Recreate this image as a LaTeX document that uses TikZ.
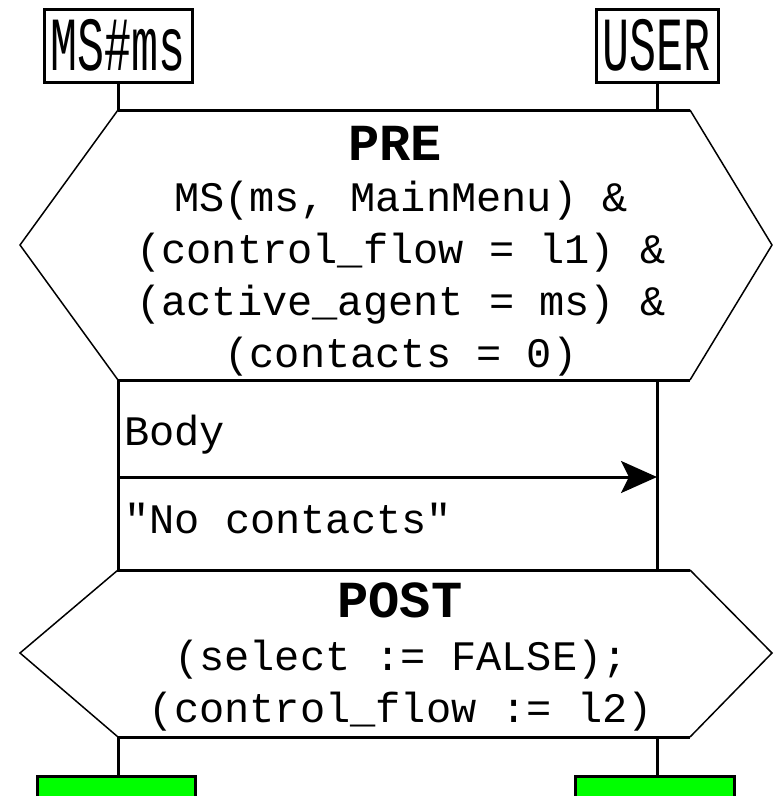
\documentclass[tikz,border=0pt]{standalone}
\usepackage{graphicx}
\usepackage{fontspec}
\setmonofont{Liberation Mono}
\usetikzlibrary{arrows.meta}
\definecolor{stopgreen}{RGB}{0,255,0}
\begin{document}
\begin{tikzpicture}[x=1pt,y=-1pt]
\tikzstyle{inst}=[draw,line width=3pt,minimum height=73pt,inner sep=0pt,font=\ttfamily\fontsize{45}{50}\selectfont];
\tikzstyle{cond}=[inner sep=0pt,align=center,font=\ttfamily\fontsize{42}{52}\selectfont];
\tikzstyle{title}=[inner sep=0pt,font=\ttfamily\bfseries\fontsize{52}{60}\selectfont];
\tikzstyle{life}=[line width=3pt];
\tikzstyle{side}=[line width=1.5pt];
\tikzstyle{msg}=[line width=3pt,-{Stealth[length=36pt,width=32pt,inset=8pt]}];
\tikzstyle{stopbox}=[draw,line width=3pt,fill=stopgreen,minimum height=60pt,anchor=north,inner sep=0pt];
\useasboundingbox (0,0) rectangle (774,796);
\clip (0,0) rectangle (774,796);
% instances
\node [inst,minimum width=148pt] (ms) at (118,45.5) {\scalebox{1}[1.7]{MS\#ms}};
\node [inst,minimum width=122pt] (user) at (657,45.5) {\scalebox{1}[1.7]{USER}};
% PRE condition
\coordinate (pre-tl) at (118,110);
\coordinate (pre-tr) at (690,110);
\coordinate (pre-r) at (772,245);
\coordinate (pre-br) at (690,380);
\coordinate (pre-bl) at (118,380);
\coordinate (pre-l) at (20,245);
\draw [life] (pre-tl) -- (pre-tr);
\draw [life] (pre-bl) -- (pre-br);
\draw [side] (pre-tr) -- (pre-r) -- (pre-br);
\draw [side] (pre-tl) -- (pre-l) -- (pre-bl);
\node [title] (pre) at (395,143) {PRE};
\node [cond] (precond) at (401,279) {MS(ms, MainMenu) \&\\(control\_flow = l1) \&\\(active\_agent = ms) \&\\(contacts = 0)};
\draw [life] (ms) -- (pre-tl);
\draw [life] (user) -- (user |- pre-tl);
% body
\coordinate (body-br) at (657,570);
\draw [life] (pre-bl) rectangle (body-br);
\node [cond,anchor=west] (body) at (124,435) {Body};
\coordinate (msg-from) at (118,477);
\coordinate (msg-to) at (657,477);
\draw [msg] (msg-from) -- (msg-to);
\node [cond,anchor=west] (msgtext) at (124,518) {"No contacts"};
% POST condition
\coordinate (post-tl) at (118,570);
\coordinate (post-tr) at (690,570);
\coordinate (post-r) at (772,653);
\coordinate (post-br) at (690,737);
\coordinate (post-bl) at (118,737);
\coordinate (post-l) at (20,653);
\draw [life] (post-tl) -- (post-tr);
\draw [life] (post-bl) -- (post-br);
\draw [side] (post-tr) -- (post-r) -- (post-br);
\draw [side] (post-tl) -- (post-l) -- (post-bl);
\node [title] (post) at (400,600) {POST};
\node [cond] (postcond) at (401,686) {(select := FALSE);\\(control\_flow := l2)};
% ends
\node [stopbox,minimum width=158pt] (msend) at (116,775) {};
\node [stopbox,minimum width=159pt] (userend) at (654.5,775) {};
\draw [life] (post-bl) -- (post-bl |- msend.north);
\draw [life] (body-br |- post-bl) -- (body-br |- userend.north);
\end{tikzpicture}
\end{document}
